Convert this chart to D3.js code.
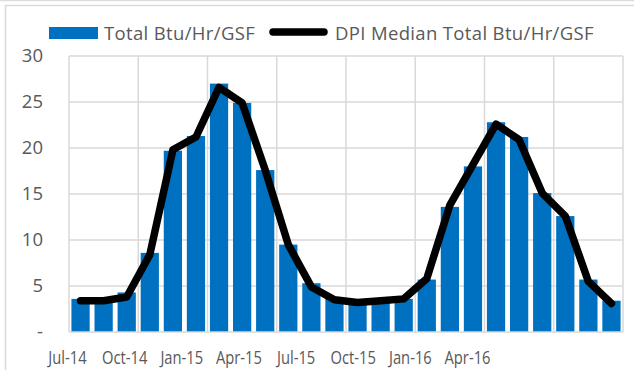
<!DOCTYPE html>
<html>
<head>
<meta charset="utf-8">
<script src="https://cdn.jsdelivr.net/npm/d3@7"></script>
<style>
  html, body { margin: 0; padding: 0; background: #fff; }
  svg { display: block; }
  text { font-family: "Open Sans", "Noto Sans", sans-serif; fill: #595959; }
</style>
</head>
<body>
<svg id="chart" width="634" height="370"></svg>
<script>
// Monthly categories, Jul-14 .. Jun-16
const months = [
  "Jul-14","Aug-14","Sep-14","Oct-14","Nov-14","Dec-14",
  "Jan-15","Feb-15","Mar-15","Apr-15","May-15","Jun-15",
  "Jul-15","Aug-15","Sep-15","Oct-15","Nov-15","Dec-15",
  "Jan-16","Feb-16","Mar-16","Apr-16","May-16","Jun-16"
];
// Total Btu/Hr/GSF (bars)
const totalBtu = [
  3.6, 3.5, 4.3, 8.6, 19.7, 21.3,
  27.0, 24.9, 17.6, 9.5, 5.3, 3.7,
  3.3, 3.4, 3.6, 5.7, 13.6, 18.0,
  22.8, 21.2, 15.1, 12.6, 5.7, 3.4
];
// DPI Median Total Btu/Hr/GSF (line)
const medianBtu = [
  3.4, 3.4, 3.8, 8.4, 19.8, 21.2,
  26.6, 24.9, 17.6, 9.5, 4.9, 3.5,
  3.2, 3.4, 3.6, 5.8, 13.8, 18.2,
  22.6, 20.9, 15.1, 12.6, 5.5, 3.1
];
const yTicks = [0, 5, 10, 15, 20, 25, 30];
const xTickLabels = ["Jul-14","Oct-14","Jan-15","Apr-15","Jul-15","Oct-15","Jan-16","Apr-16"];
const legendLabels = ["Total Btu/Hr/GSF", "DPI Median Total Btu/Hr/GSF"];

const svg = d3.select("#chart");
const W = 634, H = 370;
const plot = { left: 69, right: 623, top: 56, bottom: 332 };
const barColor = "#0070C0";
const gridColor = "#d9d9d9";

// outer frame lines
svg.append("line").attr("x1", 0).attr("x2", W).attr("y1", 0.5).attr("y2", 0.5)
  .attr("stroke", "#dcdcdc").attr("stroke-width", 1.5);
svg.append("path")
  .attr("d", `M5.5,${H}V5.5H${W}`)
  .attr("fill", "none").attr("stroke", gridColor).attr("stroke-width", 1.5);

const x = d3.scaleBand().domain(months)
  .range([plot.left, plot.right]).paddingInner(0.21).paddingOuter(0.105);
const y = d3.scaleLinear().domain([0, 30]).range([plot.bottom, plot.top]);
const xLabel = d3.scalePoint().domain(xTickLabels).range([67, 467]);

// horizontal gridlines
svg.append("g").selectAll("line").data(yTicks.filter(d => d > 0)).join("line")
  .attr("x1", plot.left).attr("x2", plot.right)
  .attr("y1", d => y(d)).attr("y2", d => y(d))
  .attr("stroke", gridColor).attr("stroke-width", 1.5);

// vertical gridlines every quarter
const step = x.step();
const boundary = m => x(m) - step * x.paddingInner() / 2;
const quarterEdges = months.filter((m, i) => i % 3 === 0).map(boundary).concat([plot.right]);
svg.append("g").selectAll("line").data(quarterEdges).join("line")
  .attr("x1", d => d).attr("x2", d => d)
  .attr("y1", plot.top).attr("y2", plot.bottom)
  .attr("stroke", gridColor).attr("stroke-width", 1.5);

// bars
svg.append("g").selectAll("rect").data(months).join("rect")
  .attr("x", m => x(m)).attr("width", x.bandwidth())
  .attr("y", (m, i) => y(totalBtu[i]))
  .attr("height", (m, i) => y(0) - y(totalBtu[i]))
  .attr("fill", barColor);

// baseline
svg.append("line").attr("x1", plot.left).attr("x2", plot.right)
  .attr("y1", plot.bottom).attr("y2", plot.bottom)
  .attr("stroke", gridColor).attr("stroke-width", 1.5);

// median line
const line = d3.line()
  .x((m) => x(m) + x.bandwidth() / 2)
  .y((m, i) => y(medianBtu[i]));
svg.append("path").datum(months)
  .attr("d", line)
  .attr("fill", "none").attr("stroke", "#000")
  .attr("stroke-width", 7.5)
  .attr("stroke-linejoin", "round").attr("stroke-linecap", "round");

// y axis labels
const yAxis = d3.axisLeft(y).tickValues(yTicks)
  .tickFormat(d => d === 0 ? "-" : d).tickSize(0).tickPadding(0);
const gy = svg.append("g").attr("transform", "translate(43,0)").call(yAxis);
gy.select(".domain").remove();
gy.selectAll("text").attr("font-size", 18.5).attr("fill", "#595959")
  .style("font-family", '"Open Sans", sans-serif');

// x axis labels (condensed face)
const xAxis = d3.axisBottom(xLabel).tickSize(0).tickPadding(0);
const gx = svg.append("g").attr("transform", "translate(0,351)").call(xAxis);
gx.select(".domain").remove();
gx.selectAll("text").attr("font-size", 18).attr("fill", "#595959")
  .attr("transform", "scale(0.82,1)")
  .style("font-family", '"Open Sans", sans-serif');

// legend
const legend = svg.append("g");
legend.append("rect").attr("x", 49).attr("y", 27).attr("width", 49).attr("height", 12)
  .attr("fill", barColor);
legend.append("text").attr("x", 104).attr("y", 39.5).attr("font-size", 18.5)
  .attr("letter-spacing", 0.35).text(legendLabels[0]);
legend.append("line").attr("x1", 273).attr("x2", 324).attr("y1", 32).attr("y2", 32)
  .attr("stroke", "#000").attr("stroke-width", 7.5).attr("stroke-linecap", "round");
legend.append("text").attr("x", 335).attr("y", 39.5).attr("font-size", 18.5)
  .attr("letter-spacing", 0.35).text(legendLabels[1]);
</script>
</body>
</html>
